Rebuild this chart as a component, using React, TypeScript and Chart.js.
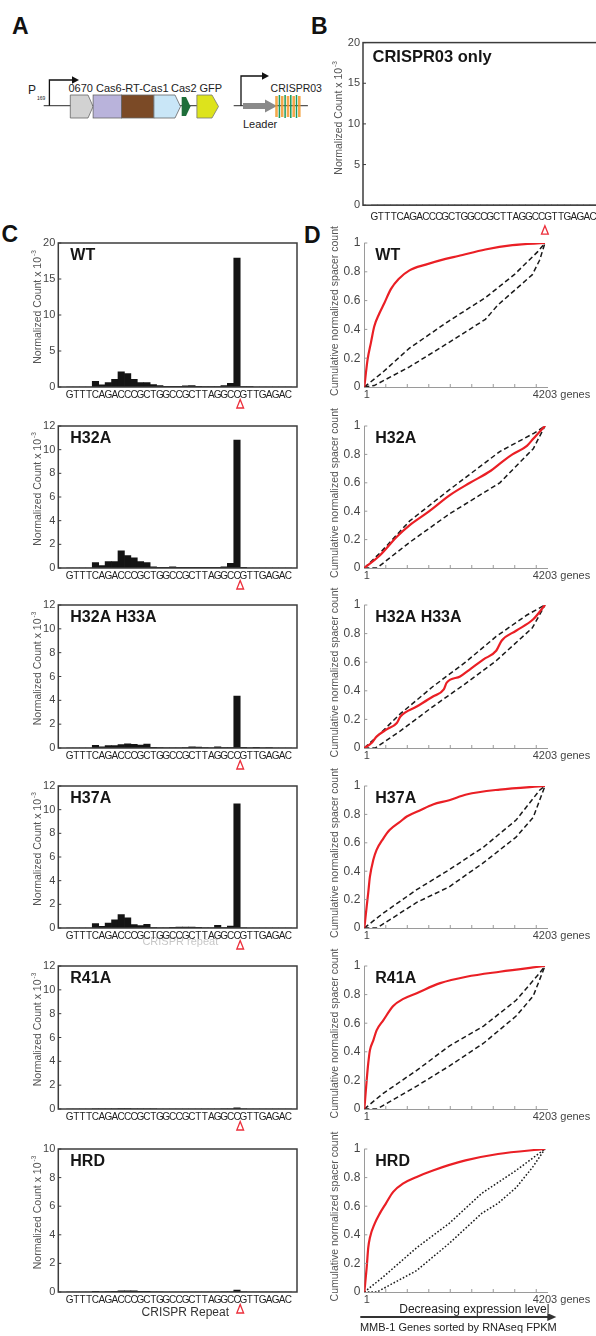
import React, { useEffect, useRef } from "react";
import { Chart, registerables } from "chart.js";

Chart.register(...registerables);

const FONT = "'Liberation Sans', Arial, Helvetica, sans-serif";

// ---------------- data ----------------
const SEQUENCE = ["G","T","T","T","C","A","G","A","C","C","C","G","C","T","G","G","C","C","G","C","T","T","A","G","G","C","C","G","T","T","G","A","G","A","C"];
const CUT_SITE = 26.5; // cleavage between base 26 (C) and 27 (G)

const B_BARS = [0,0,0,0,0,0,0,0,0,0,0,0,0,0,0,0,0,0,0,0,0,0,0,0,0,0,0,0,0,0,0,0,0,0,0];
const WT_BARS = [0,0,0,0,0.8,0.3,0.6,1.05,2.1,1.85,1.05,0.6,0.6,0.35,0.2,0.1,0.1,0.1,0.15,0.2,0.1,0.05,0.05,0.05,0.2,0.5,17.9,0.05,0.05,0,0,0,0,0,0];
const H32A_BARS = [0,0,0,0,0.45,0.2,0.55,0.55,1.45,1.05,0.85,0.55,0.45,0.1,0.05,0.05,0.1,0.05,0.05,0.05,0.05,0.05,0.05,0.05,0.1,0.4,10.8,0.05,0,0,0,0,0,0,0];
const H33A_BARS = [0,0,0,0,0.22,0.1,0.2,0.2,0.28,0.35,0.3,0.25,0.32,0.05,0.03,0.02,0.02,0.02,0.03,0.1,0.08,0.03,0.02,0.1,0.03,0.03,4.35,0.06,0.02,0.05,0.02,0.03,0,0,0];
const H37A_BARS = [0,0,0,0,0.37,0.15,0.42,0.7,1.13,0.85,0.28,0.2,0.3,0.03,0.02,0.02,0.06,0.07,0.07,0.08,0.06,0.02,0.02,0.22,0.03,0.17,10.5,0.02,0,0,0,0,0,0,0];
const R41A_BARS = [0,0,0,0,0.02,0.01,0.02,0.02,0.03,0.03,0.02,0.02,0.01,0.01,0,0,0,0,0,0,0,0,0,0,0.01,0.01,0.09,0.01,0,0,0,0,0,0,0];
const HRD_BARS = [0,0,0,0,0.05,0.02,0.03,0.04,0.09,0.09,0.08,0.04,0.04,0.01,0.01,0,0,0,0,0,0,0,0,0,0.01,0.02,0.13,0.02,0,0,0,0,0,0,0];

const GENE_COUNT = 4203;
const GENE_TICKS = [500, 1000, 1500, 2000, 2500, 3000, 3500, 4000];
const CUM_TICKS = [0.2, 0.4, 0.6, 0.8, 1];

const WT_RED_X = [1, 76, 156, 231, 349, 462, 618, 799, 1051, 1429, 1891, 2186, 2816, 3446, 4203];
const WT_RED_Y = [0, 0.19, 0.31, 0.42, 0.51, 0.58, 0.68, 0.75, 0.81, 0.85, 0.89, 0.91, 0.955, 0.985, 1];
const WT_UP_X = [1, 420, 1051, 1975, 2816, 3488, 4035, 4203];
const WT_UP_Y = [0, 0.1, 0.27, 0.46, 0.62, 0.78, 0.94, 1];
const WT_LO_X = [1, 231, 1051, 1975, 2816, 3110, 3909, 4077, 4203];
const WT_LO_Y = [0, 0.01, 0.14, 0.31, 0.47, 0.57, 0.78, 0.88, 1];

const H32A_RED_X = [1, 366, 757, 1051, 1513, 1975, 2459, 2942, 3236, 3446, 3783, 3930, 4203];
const H32A_RED_Y = [0, 0.09, 0.22, 0.3, 0.4, 0.51, 0.6, 0.685, 0.755, 0.8, 0.86, 0.91, 1];
const H32A_UP_X = [1, 378, 1051, 1975, 3152, 3951, 4203];
const H32A_UP_Y = [0, 0.11, 0.33, 0.55, 0.82, 0.95, 1];
const H32A_LO_X = [1, 294, 1051, 1975, 3152, 3930, 4203];
const H32A_LO_Y = [0, 0, 0.18, 0.38, 0.6, 0.84, 1];

const H33A_RED_X = [1, 168, 286, 521, 757, 841, 1219, 1597, 1849, 1917, 2228, 2459, 2774, 3068, 3194, 3531, 3930, 4203];
const H33A_RED_Y = [0, 0.035, 0.08, 0.13, 0.175, 0.22, 0.29, 0.36, 0.41, 0.457, 0.5, 0.55, 0.62, 0.68, 0.75, 0.82, 0.9, 1];
const H33A_UP_X = [1, 294, 841, 1597, 2354, 3068, 3783, 4203];
const H33A_UP_Y = [0, 0.08, 0.24, 0.43, 0.6, 0.78, 0.93, 1];
const H33A_LO_X = [1, 252, 841, 1597, 2354, 3068, 3909, 4203];
const H33A_LO_Y = [0, 0, 0.12, 0.29, 0.45, 0.61, 0.84, 1];

const H37A_RED_X = [1, 55, 92, 130, 210, 286, 441, 588, 841, 988, 1303, 1597, 1975, 2375, 3152, 4203];
const H37A_RED_Y = [0, 0.15, 0.25, 0.36, 0.48, 0.55, 0.63, 0.69, 0.75, 0.785, 0.83, 0.87, 0.9, 0.94, 0.975, 1];
const H37A_UP_X = [1, 441, 1219, 1975, 2774, 3531, 4077, 4203];
const H37A_UP_Y = [0, 0.105, 0.27, 0.41, 0.57, 0.76, 0.97, 1];
const H37A_LO_X = [1, 294, 1219, 1975, 2774, 3531, 3930, 4203];
const H37A_LO_Y = [0, 0, 0.18, 0.29, 0.46, 0.64, 0.78, 1];

const R41A_RED_X = [1, 55, 92, 130, 210, 286, 441, 672, 908, 1219, 1765, 2375, 3152, 4203];
const R41A_RED_Y = [0, 0.2, 0.32, 0.41, 0.48, 0.55, 0.62, 0.72, 0.77, 0.81, 0.88, 0.925, 0.96, 1];
const R41A_UP_X = [1, 441, 1219, 1975, 2774, 3531, 4077, 4203];
const R41A_UP_Y = [0, 0.11, 0.27, 0.44, 0.58, 0.76, 0.95, 1];
const R41A_LO_X = [1, 294, 1219, 1975, 2774, 3531, 3930, 4203];
const R41A_LO_Y = [0, 0, 0.16, 0.3, 0.46, 0.65, 0.79, 1];

const HRD_RED_X = [1, 55, 92, 130, 244, 361, 504, 672, 908, 1219, 1597, 2354, 3110, 4203];
const HRD_RED_Y = [0, 0.17, 0.31, 0.38, 0.48, 0.55, 0.62, 0.7, 0.76, 0.805, 0.85, 0.92, 0.965, 1];
const HRD_UP_X = [1, 437, 1219, 1975, 2732, 3531, 4203];
const HRD_UP_Y = [0, 0.105, 0.31, 0.48, 0.69, 0.85, 1];
const HRD_LO_X = [1, 294, 1219, 1975, 2732, 3110, 3531, 3909, 4203];
const HRD_LO_Y = [0, 0, 0.15, 0.34, 0.55, 0.62, 0.73, 0.87, 1];

// ---------------- layout ----------------
const ROW_TOP = [243.3, 425.5, 604.5, 785.5, 965.5, 1149];
const ROW_BOTTOM = [387.5, 567.5, 747.5, 928.3, 1108.7, 1292];
const X_MIN = -1.25;
const X_MAX = 34.8;

type Geom = { left: number; top: number; w: number; h: number; plotLeft: number; plotRight: number; plotTop: number; plotBottom: number };

function drawYTitle(ctx: any, cx: number, cy: number, main: string, sup: string, size: number) {
  ctx.save();
  ctx.translate(cx, cy);
  ctx.rotate(-Math.PI / 2);
  ctx.fillStyle = "#555";
  ctx.textBaseline = "middle";
  ctx.textAlign = "left";
  ctx.font = `${size}px ${FONT}`;
  const w1 = ctx.measureText(main).width;
  ctx.font = `${size * 0.62}px ${FONT}`;
  const w2 = sup ? ctx.measureText(sup).width + 1 : 0;
  const start = -(w1 + w2) / 2;
  ctx.font = `${size}px ${FONT}`;
  ctx.fillText(main, start, 0);
  if (sup) {
    ctx.font = `${size * 0.62}px ${FONT}`;
    ctx.fillText(sup, start + w1 + 1, -4);
  }
  ctx.restore();
}

type BarOpts = {
  values: number[]; yMax: number; yStep: number; label: string; labelFont: string;
  labelDx: number; labelDy: number; titleDx: number; titleDy: number; seqPad: number; triDy: number;
  g: Geom; note?: string; noteFaint?: boolean;
};

function barConfig(o: BarOpts) {
  const g = o.g;
  const padTop = g.plotTop - g.top;
  const padRight = g.left + g.w - g.plotRight;
  const yW = g.plotLeft - g.left;
  const xH = g.top + g.h - g.plotBottom;
  const plugin = {
    id: "barPanel",
    afterDraw(chart: any) {
      const { ctx, chartArea: a, scales } = chart;
      ctx.save();
      ctx.strokeStyle = "#3c3c3c";
      ctx.lineWidth = 1.5;
      ctx.strokeRect(a.left, a.top, a.right - a.left, a.bottom - a.top);
      ctx.lineWidth = 1;
      scales.y.ticks.forEach((t: any) => {
        const py = scales.y.getPixelForValue(t.value);
        ctx.beginPath();
        ctx.moveTo(a.left, py);
        ctx.lineTo(a.left + 3, py);
        ctx.stroke();
      });
      ctx.fillStyle = "#161616";
      ctx.font = o.labelFont;
      ctx.textBaseline = "middle";
      ctx.textAlign = "left";
      ctx.fillText(o.label, a.left + o.labelDx, a.top + o.labelDy);
      drawYTitle(ctx, a.left + o.titleDx, (a.top + a.bottom) / 2 + o.titleDy, "Normalized Count x 10", "-3", 10.5);
      const tx = scales.x.getPixelForValue(CUT_SITE);
      const ty = a.bottom + o.triDy;
      ctx.strokeStyle = "#ec2f3b";
      ctx.lineWidth = 1.3;
      ctx.beginPath();
      ctx.moveTo(tx, ty - 4.5);
      ctx.lineTo(tx + 3.4, ty + 4);
      ctx.lineTo(tx - 3.4, ty + 4);
      ctx.closePath();
      ctx.stroke();
      if (o.note) {
        ctx.textAlign = "center";
        if (o.noteFaint) {
          ctx.fillStyle = "rgba(90,90,90,0.35)";
          ctx.font = `11px ${FONT}`;
          ctx.fillText(o.note, a.left + 122, a.bottom + 14);
        } else {
          ctx.fillStyle = "#333";
          ctx.font = `12px ${FONT}`;
          ctx.fillText(o.note, a.left + 127, a.bottom + 21);
        }
      }
      ctx.restore();
    },
  };
  return {
    type: "bar",
    data: {
      datasets: [
        {
          data: o.values.map((v, i) => ({ x: i, y: v })),
          backgroundColor: "#141414",
          borderWidth: 0,
          barPercentage: 1,
          categoryPercentage: 1,
        },
      ],
    },
    options: {
      animation: false,
      responsive: false,
      maintainAspectRatio: false,
      events: [],
      layout: { padding: { top: padTop, right: padRight, left: 0, bottom: 0 } },
      plugins: { legend: { display: false }, tooltip: { enabled: false } },
      scales: {
        x: {
          type: "linear",
          min: X_MIN,
          max: X_MAX,
          grid: { display: false, drawTicks: false },
          border: { display: false },
          afterBuildTicks: (s: any) => {
            s.ticks = SEQUENCE.map((_, i) => ({ value: i }));
          },
          afterFit: (s: any) => {
            s.height = xH;
          },
          ticks: {
            autoSkip: false,
            maxRotation: 0,
            minRotation: 0,
            padding: o.seqPad,
            color: "#222",
            font: { family: FONT, size: 10 },
            callback: (v: any) => SEQUENCE[v] ?? "",
          },
        },
        y: {
          min: 0,
          max: o.yMax,
          grid: { display: false, drawTicks: false },
          border: { display: false },
          afterFit: (s: any) => {
            s.width = yW;
          },
          ticks: { stepSize: o.yStep, padding: 3, color: "#444", font: { family: FONT, size: 11 } },
        },
      },
    },
    plugins: [plugin],
  };
}

type CumOpts = {
  label: string; redX: number[]; redY: number[]; upX: number[]; upY: number[]; loX: number[]; loY: number[];
  dotted?: boolean; g: Geom; footer?: boolean;
};

function pts(xs: number[], ys: number[]) {
  return xs.map((x, i) => ({ x, y: ys[i] }));
}

function cumConfig(o: CumOpts) {
  const g = o.g;
  const padTop = g.plotTop - g.top;
  const padRight = g.left + g.w - g.plotRight;
  const yW = g.plotLeft - g.left;
  const xH = g.top + g.h - g.plotBottom;
  const dash = o.dotted ? [1.6, 1.9] : [5, 3];
  const plugin = {
    id: "cumPanel",
    afterDraw(chart: any) {
      const { ctx, chartArea: a, scales } = chart;
      const x = scales.x;
      const y = scales.y;
      ctx.save();
      ctx.strokeStyle = "#9a9a9a";
      ctx.lineWidth = 1;
      GENE_TICKS.forEach((gv) => {
        const px = x.getPixelForValue(gv);
        ctx.beginPath();
        ctx.moveTo(px, a.bottom);
        ctx.lineTo(px, a.bottom - 3);
        ctx.stroke();
      });
      CUM_TICKS.forEach((v) => {
        const py = y.getPixelForValue(v);
        ctx.beginPath();
        ctx.moveTo(a.left, py);
        ctx.lineTo(a.left + 3, py);
        ctx.stroke();
      });
      ctx.fillStyle = "#444";
      ctx.font = `11px ${FONT}`;
      ctx.textBaseline = "middle";
      ctx.textAlign = "center";
      ctx.fillText("1", x.getPixelForValue(1) + 2.5, a.bottom + 8);
      const w = ctx.measureText(String(GENE_COUNT)).width;
      ctx.textAlign = "left";
      ctx.fillText(`${GENE_COUNT} genes`, x.getPixelForValue(GENE_COUNT) - w / 2, a.bottom + 8);
      ctx.fillStyle = "#161616";
      ctx.font = `bold 16px ${FONT}`;
      ctx.fillText(o.label, a.left + 11, a.top + 13);
      drawYTitle(ctx, a.left - 29, (a.top + a.bottom) / 2 - 4, "Cumulative normalized spacer count", "", 10.5);
      if (o.footer) {
        ctx.fillStyle = "#222";
        ctx.textAlign = "center";
        ctx.font = `12px ${FONT}`;
        ctx.fillText("Decreasing expression level", a.left + 110, a.bottom + 18);
        ctx.strokeStyle = "#333";
        ctx.lineWidth = 2;
        ctx.beginPath();
        ctx.moveTo(a.left - 4, a.bottom + 25);
        ctx.lineTo(a.left + 184, a.bottom + 25);
        ctx.stroke();
        ctx.fillStyle = "#333";
        ctx.beginPath();
        ctx.moveTo(a.left + 192, a.bottom + 25);
        ctx.lineTo(a.left + 183, a.bottom + 21);
        ctx.lineTo(a.left + 183, a.bottom + 29);
        ctx.closePath();
        ctx.fill();
        ctx.fillStyle = "#222";
        ctx.font = `11px ${FONT}`;
        ctx.fillText("MMB-1 Genes sorted by RNAseq FPKM", a.left + 94, a.bottom + 36);
      }
      ctx.restore();
    },
  };
  return {
    type: "line",
    data: {
      datasets: [
        { data: pts(o.redX, o.redY), borderColor: "#ea1f25", borderWidth: 2.2, pointRadius: 0, cubicInterpolationMode: "monotone", fill: false },
        { data: pts(o.upX, o.upY), borderColor: "#1a1a1a", borderWidth: 1.5, borderDash: dash, pointRadius: 0, tension: 0, fill: false },
        { data: pts(o.loX, o.loY), borderColor: "#1a1a1a", borderWidth: 1.5, borderDash: dash, pointRadius: 0, tension: 0, fill: false },
      ],
    },
    options: {
      animation: false,
      responsive: false,
      maintainAspectRatio: false,
      events: [],
      layout: { padding: { top: padTop, right: padRight, left: 0, bottom: 0 } },
      plugins: { legend: { display: false }, tooltip: { enabled: false } },
      scales: {
        x: {
          type: "linear",
          min: 0,
          max: 4250,
          grid: { display: false, drawTicks: false },
          border: { display: true, color: "#9a9a9a", width: 1 },
          ticks: { display: false },
          afterFit: (s: any) => {
            s.height = xH;
          },
        },
        y: {
          min: 0,
          max: 1,
          grid: { display: false, drawTicks: false },
          border: { display: true, color: "#9a9a9a", width: 1 },
          afterFit: (s: any) => {
            s.width = yW;
          },
          ticks: {
            stepSize: 0.2,
            padding: 4,
            color: "#444",
            font: { family: FONT, size: 12 },
            callback: (v: any) => {
              const n = Number(v);
              if (Math.abs(n) < 1e-9) return "0";
              if (Math.abs(n - 1) < 1e-9) return "1";
              return n.toFixed(1);
            },
          },
        },
      },
    },
    plugins: [plugin],
  };
}

function ChartCanvas({ g, make }: { g: Geom; make: () => any }) {
  const ref = useRef<HTMLCanvasElement | null>(null);
  useEffect(() => {
    if (!ref.current) return;
    const chart = new Chart(ref.current, make());
    return () => chart.destroy();
  }, []);
  return (
    <canvas
      ref={ref}
      width={g.w}
      height={g.h}
      style={{ position: "absolute", left: g.left, top: g.top, width: g.w, height: g.h }}
    />
  );
}

function cGeom(i: number, extraBottom: number): Geom {
  const top = ROW_TOP[i] - 15;
  return { left: 0, top, w: 300, h: ROW_BOTTOM[i] + extraBottom - top, plotLeft: 58.3, plotRight: 297, plotTop: ROW_TOP[i], plotBottom: ROW_BOTTOM[i] };
}

function dGeom(i: number, extraBottom: number): Geom {
  const top = ROW_TOP[i] - 32;
  return { left: 300, top, w: 296, h: ROW_BOTTOM[i] + extraBottom - top, plotLeft: 364.3, plotRight: 547, plotTop: ROW_TOP[i], plotBottom: ROW_BOTTOM[i] };
}

const B_GEOM: Geom = { left: 305, top: 25, w: 300, h: 212, plotLeft: 363, plotRight: 601.7, plotTop: 42.6, plotBottom: 205.2 };

const C_PANELS = [
  { label: "WT", values: WT_BARS, yMax: 20, yStep: 5 },
  { label: "H32A", values: H32A_BARS, yMax: 12, yStep: 2 },
  { label: "H32A H33A", values: H33A_BARS, yMax: 12, yStep: 2 },
  { label: "H37A", values: H37A_BARS, yMax: 12, yStep: 2, note: "CRISPR repeat", noteFaint: true },
  { label: "R41A", values: R41A_BARS, yMax: 12, yStep: 2 },
  { label: "HRD", values: HRD_BARS, yMax: 10, yStep: 2, note: "CRISPR Repeat", noteFaint: false },
];

const D_PANELS = [
  { label: "WT", redX: WT_RED_X, redY: WT_RED_Y, upX: WT_UP_X, upY: WT_UP_Y, loX: WT_LO_X, loY: WT_LO_Y },
  { label: "H32A", redX: H32A_RED_X, redY: H32A_RED_Y, upX: H32A_UP_X, upY: H32A_UP_Y, loX: H32A_LO_X, loY: H32A_LO_Y },
  { label: "H32A H33A", redX: H33A_RED_X, redY: H33A_RED_Y, upX: H33A_UP_X, upY: H33A_UP_Y, loX: H33A_LO_X, loY: H33A_LO_Y },
  { label: "H37A", redX: H37A_RED_X, redY: H37A_RED_Y, upX: H37A_UP_X, upY: H37A_UP_Y, loX: H37A_LO_X, loY: H37A_LO_Y },
  { label: "R41A", redX: R41A_RED_X, redY: R41A_RED_Y, upX: R41A_UP_X, upY: R41A_UP_Y, loX: R41A_LO_X, loY: R41A_LO_Y },
  { label: "HRD", redX: HRD_RED_X, redY: HRD_RED_Y, upX: HRD_UP_X, upY: HRD_UP_Y, loX: HRD_LO_X, loY: HRD_LO_Y, dotted: true, footer: true },
];

function Diagram() {
  const txt = { fontFamily: FONT, fontSize: 11, fill: "#222" } as any;
  return (
    <svg width={596} height={1336} style={{ position: "absolute", left: 0, top: 0 }}>
      <g fontFamily={FONT} fontWeight="bold" fontSize={23} fill="#111">
        <text x={12} y={34}>A</text>
        <text x={311} y={34}>B</text>
        <text x={1.5} y={242}>C</text>
        <text x={304} y={243}>D</text>
      </g>
      {/* operon */}
      <line x1={43.7} y1={105.7} x2={197} y2={105.7} stroke="#555" strokeWidth={1.2} />
      <polyline points="49.4,105.7 49.4,80 72,80" fill="none" stroke="#111" strokeWidth={1.3} />
      <polygon points="72,76.3 79,80 72,83.7" fill="#111" />
      <text x={28} y={94} style={{ ...txt, fontSize: 12 }}>P</text>
      <text x={37} y={100} style={{ ...txt, fontSize: 5 }}>169</text>
      <polygon points="70.3,95 88,95 93.1,106.5 88,118 70.3,118" fill="#d2d2d2" stroke="#666" strokeWidth={0.8} />
      <rect x={93.1} y={95} width={28.5} height={23} fill="#b9b3db" stroke="#666" strokeWidth={0.8} />
      <rect x={121.6} y={95} width={32.3} height={23} fill="#7b4a26" stroke="#666" strokeWidth={0.8} />
      <polygon points="153.9,95 175,95 180.5,106.5 175,118 153.9,118" fill="#c9e6f7" stroke="#666" strokeWidth={0.8} />
      <polygon points="181.7,97 186,97 190.5,106.5 186,116 181.7,116" fill="#1e6e3a" />
      <polygon points="196.9,95 212,95 218.5,106.5 212,118 196.9,118" fill="#dde31c" stroke="#777" strokeWidth={0.8} />
      <text x={68.4} y={92} style={txt}>0670</text>
      <text x={96} y={92} style={txt}>Cas6-RT-Cas1</text>
      <text x={171} y={92} style={txt}>Cas2</text>
      <text x={199.5} y={92} style={txt}>GFP</text>
      {/* CRISPR03 */}
      <line x1={233.7} y1={105.7} x2={307.9} y2={105.7} stroke="#555" strokeWidth={1.2} />
      <polyline points="241,105.7 241,76 262,76" fill="none" stroke="#111" strokeWidth={1.3} />
      <polygon points="262,72.3 269,76 262,79.7" fill="#111" />
      <polygon points="243,103 265,103 265,99.5 277,106 265,112.5 265,109 243,109" fill="#8a8a8a" />
      {[276.5, 282.2, 288, 293.7, 299.3].map((x) => (
        <line key={"o" + x} x1={x} y1={96} x2={x} y2={117} stroke="#f39a2e" strokeWidth={2.6} opacity={0.85} />
      ))}
      {[279.4, 285.1, 290.8, 296.5].map((x) => (
        <line key={"g" + x} x1={x} y1={95} x2={x} y2={118} stroke="#1b9a5c" strokeWidth={1.5} />
      ))}
      <text x={270.6} y={92} style={{ ...txt, fontSize: 10.5 }}>CRISPR03</text>
      <text x={243} y={127.5} style={txt}>Leader</text>
    </svg>
  );
}

export default function App() {
  return (
    <div
      style={{
        position: "fixed",
        left: 0,
        top: 0,
        width: 596,
        height: 1336,
        overflow: "hidden",
        background: "#fff",
        fontFamily: FONT,
      }}
    >
      <Diagram />
      <ChartCanvas
        g={B_GEOM}
        make={() =>
          barConfig({
            values: B_BARS, yMax: 20, yStep: 5, label: "CRISPR03 only", labelFont: `bold 16.5px ${FONT}`,
            labelDx: 9.5, labelDy: 14.5, titleDx: -24, titleDy: -6, seqPad: 6, triDy: 25, g: B_GEOM,
          })
        }
      />
      {C_PANELS.map((p, i) => {
        const g = cGeom(i, 32);
        return (
          <ChartCanvas
            key={"c" + i}
            g={g}
            make={() =>
              barConfig({
                values: p.values, yMax: p.yMax, yStep: p.yStep, label: p.label, labelFont: `bold 16px ${FONT}`,
                labelDx: 12, labelDy: 13, titleDx: -19.8, titleDy: -8, seqPad: 2, triDy: 17, g,
                note: (p as any).note, noteFaint: (p as any).noteFaint,
              })
            }
          />
        );
      })}
      {D_PANELS.map((p, i) => {
        const g = dGeom(i, i === 5 ? 1336 - ROW_BOTTOM[5] : 25);
        return (
          <ChartCanvas
            key={"d" + i}
            g={g}
            make={() =>
              cumConfig({
                label: p.label, redX: p.redX, redY: p.redY, upX: p.upX, upY: p.upY, loX: p.loX, loY: p.loY,
                dotted: (p as any).dotted, footer: (p as any).footer, g,
              })
            }
          />
        );
      })}
    </div>
  );
}
